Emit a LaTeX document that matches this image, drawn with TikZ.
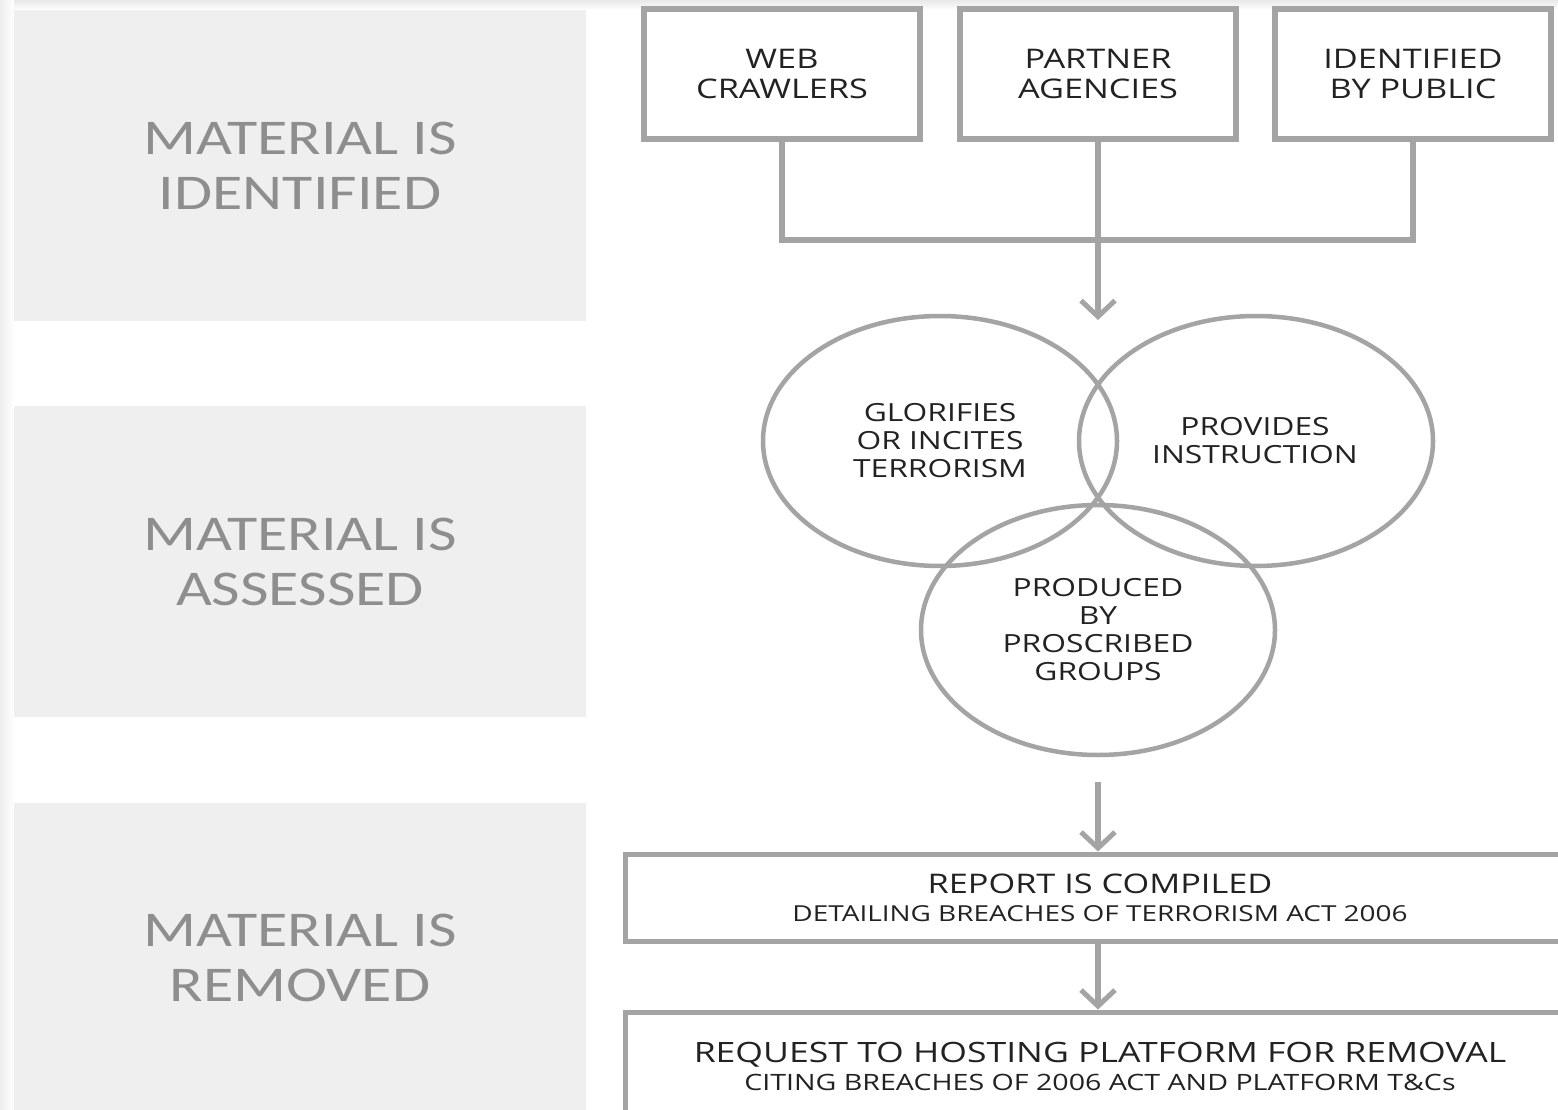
\documentclass[tikz,border=0pt]{standalone}
\usepackage{fontspec}
\setmainfont{Open Sans}
\newfontfamily\boxfont[FakeStretch=1.27]{Open Sans}
\newfontfamily\labfont[FakeStretch=1.24]{Carlito}
\usetikzlibrary{shapes.geometric,arrows.meta}
\definecolor{linegray}{HTML}{A4A4A4}
\definecolor{panelgray}{HTML}{EFEFEF}
\definecolor{labgray}{HTML}{8E8E8E}
\definecolor{txtcol}{HTML}{222222}
\begin{document}
\begin{tikzpicture}[x=1pt,y=-1pt,
  srcbox/.style={draw=linegray,line width=6pt,minimum width=276pt,minimum height=130pt,
    align=center,inner sep=0pt,text=txtcol,font=\boxfont\fontsize{27}{30}\selectfont},
  venn/.style={draw=linegray,line width=4.5pt,ellipse,minimum width=354pt,minimum height=250pt,
    inner sep=0pt,align=center,text=txtcol,font=\boxfont\fontsize{25}{28}\selectfont},
  vtext/.style={text=txtcol,align=center,inner sep=0pt,font=\boxfont\fontsize{25}{28}\selectfont},
  widebox/.style={draw=linegray,line width=5pt,minimum width=950pt,inner sep=0pt,align=center,text=txtcol},
  panel/.style={fill=panelgray,draw=none,minimum width=572pt,minimum height=311pt,inner sep=0pt,
    align=center,text=labgray,font=\labfont\fontsize{50}{55}\selectfont},
  conn/.style={draw=linegray,line width=6pt},
  arr/.style={conn,-{Straight Barb[length=16pt,width=34pt,line width=5pt]}}
]
\clip (0,0) rectangle (1558,1110);
\fill[white] (0,0) rectangle (1558,1110);
% soft shadows
\shade[top color=gray!18,bottom color=white] (0,0) rectangle (1558,10);
\shade[left color=gray!14,right color=white] (0,0) rectangle (14,1110);

% panels
\node[panel] (p1) at (300,165.5) {MATERIAL IS\\IDENTIFIED};
\node[panel] (p2) at (300,561.5) {MATERIAL IS\\ASSESSED};
\node[panel] (p3) at (300,958) {MATERIAL IS\\REMOVED};

% source boxes
\node[srcbox] (wc) at (782,74) {WEB\\CRAWLERS};
\node[srcbox] (pa) at (1098,74) {PARTNER\\AGENCIES};
\node[srcbox] (ip) at (1413,74) {IDENTIFIED\\BY PUBLIC};

\coordinate (j) at (1098,240);
\coordinate (vtop) at (1098,320);
\draw[conn] (wc) |- (j) -| (ip);
\draw[conn] (pa) -- (j);
\draw[arr] (j) -- (vtop);

% venn
\node[venn] (c1) at (940,441) {GLORIFIES\\OR INCITES\\TERRORISM};
\node[venn] (c2) at (1256,441) {};
\node[venn] (c3) at (1098,630) {};
\node[vtext] (t2) at (1255,441) {PROVIDES\\INSTRUCTION};
\node[vtext] (t3) at (1098,630) {PRODUCED\\BY\\PROSCRIBED\\GROUPS};

% report
\coordinate (a2) at (1098,782);
\node[widebox,minimum height=87pt,font=\boxfont\fontsize{22}{28}\selectfont] (rep) at (1100,897.5)
  {{\fontsize{27}{28}\selectfont REPORT IS COMPILED}\\{\fontsize{22}{28}\selectfont DETAILING BREACHES OF TERRORISM ACT 2006}};
\node[widebox,minimum height=108pt,font=\boxfont\fontsize{22}{28}\selectfont] (req) at (1100,1066)
  {{\fontsize{28}{28}\selectfont REQUEST TO HOSTING PLATFORM FOR REMOVAL}\\{\fontsize{22.5}{28}\selectfont CITING BREACHES OF 2006 ACT AND PLATFORM T\&Cs}};

\draw[arr] (a2) -- (rep.north -| a2);
\draw[arr] (rep.south -| a2) -- (req.north -| a2);
\end{tikzpicture}
\end{document}
